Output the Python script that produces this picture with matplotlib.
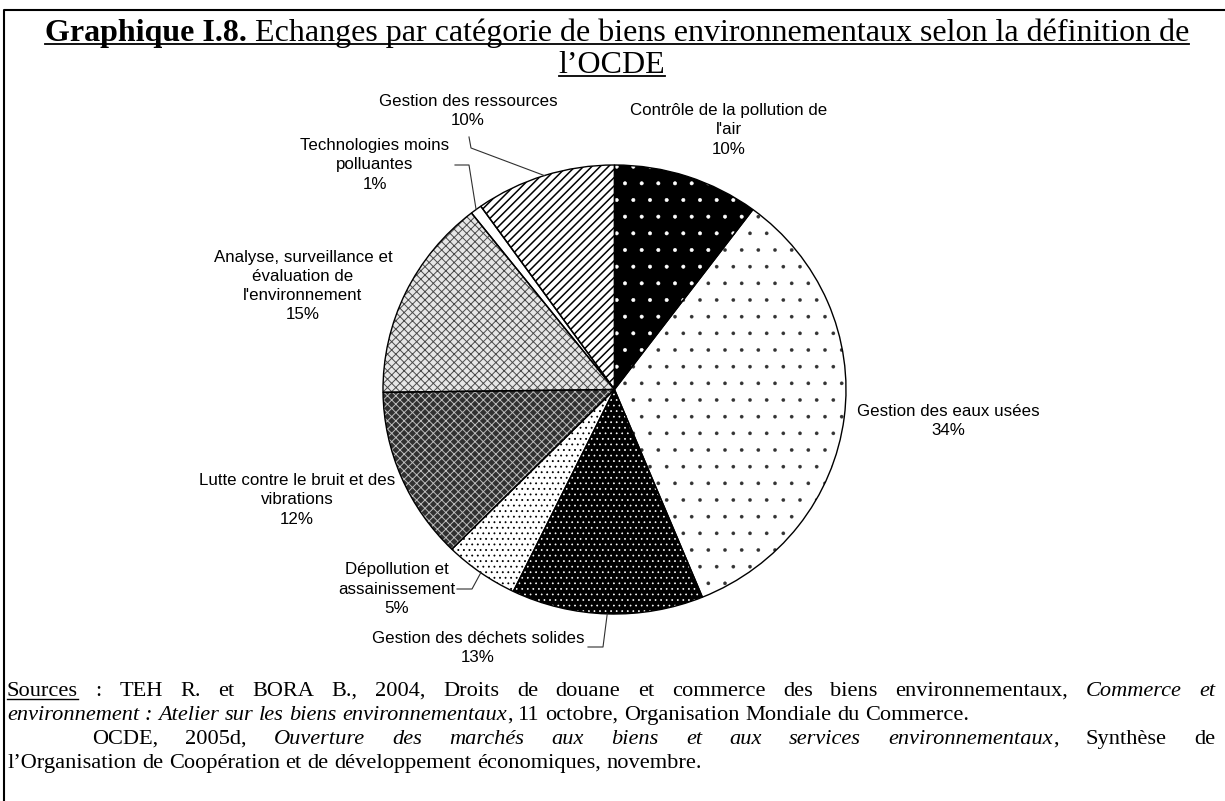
import numpy as np
import matplotlib
matplotlib.use('Agg')
from matplotlib import pyplot as plt

# pie data (shares, labels rounded like the source)
categories = [
    "Contrôle de la pollution de\nl'air",
    "Gestion des eaux usées",
    "Gestion des déchets solides",
    "Dépollution et\nassainissement",
    "Lutte contre le bruit et des\nvibrations",
    "Analyse, surveillance et\névaluation de\nl'environnement",
    "Technologies moins\npolluantes",
    "Gestion des ressources",
]
shares = [10.2, 33.6, 13.4, 5.2, 12.4, 14.6, 0.8, 9.8]

title_bold = "Graphique I.8."
title_rest = "Echanges par catégorie de biens environnementaux selon la définition de"
title_line2 = "l\u2019OCDE"

# '*' toggles italic, '_' toggles underline
source_lines = [
    "_Sources_ : TEH R. et BORA B., 2004, Droits de douane et commerce des biens environnementaux, *Commerce et*",
    "*environnement : Atelier sur les biens environnementaux*, 11 octobre, Organisation Mondiale du Commerce.",
    "OCDE, 2005d, *Ouverture des marchés aux biens et aux services environnementaux*, Synthèse de",
    "l\u2019Organisation de Coopération et de développement économiques, novembre.",
]

# layout (pixels)
W, H = 1225, 801
PIE_CX, PIE_CY, PIE_RX, PIE_RY = 614.5, 389.5, 231.5, 224.5
label_pos = [(729, 130), (948, 421), (478, 648), (397, 589),
             (297, 500), (303, 286), (375, 165), (468, 111)]
# elbow of leader lines, keyed by wedge index; the last point is on the wedge
leader_elbows = {
    7: [(469, 137), (471, 148)],
    6: [(455, 165), (469, 165)],
    3: [(457, 589), (472, 589)],
    2: [(588, 647), (603, 647)],
}
# source lines: (x start, x end, baseline, justify)
source_layout = [(7, 1215, 696, True), (7, 1215, 720, False),
                 (92, 1215, 744, True), (7, 1215, 768, False)]

styles = [
    dict(fc='black', hc='white', hatch='.', hlw=0.4),
    dict(fc='white', hc='#333333', hatch='.', hlw=0.2),
    dict(fc='black', hc='white', hatch='...', hlw=0.5),
    dict(fc='white', hc='black', hatch='...', hlw=0.6),
    dict(fc='#303030', hc='#bdbdbd', hatch='xxxx', hlw=0.7),
    dict(fc='#e6e6e6', hc='#4a4a4a', hatch='xxxx', hlw=0.7),
    dict(fc='white', hc='white', hatch=None, hlw=0.6),
    dict(fc='white', hc='black', hatch='////', hlw=1.1),
]

plt.rcParams['hatch.linewidth'] = 0.6
SERIF = 'Liberation Serif'
SANS = 'Liberation Sans'

fig = plt.figure(figsize=(W / 100, H / 100), dpi=100)
fig.patch.set_facecolor('white')

ax = fig.add_axes([(PIE_CX - PIE_RX) / W, (H - PIE_CY - PIE_RY) / H,
                   2 * PIE_RX / W, 2 * PIE_RY / H])
wedges, _ = ax.pie(shares, startangle=90, counterclock=False, radius=1,
                   wedgeprops=dict(linewidth=0))
for w, st in zip(wedges, styles):
    w.set_facecolor(st['fc'])
    w.set_edgecolor(st['hc'])
    if st['hatch']:
        w.set_hatch(st['hatch'])
    if hasattr(w, 'set_hatch_linewidth'):
        w.set_hatch_linewidth(st['hlw'])
outlines, _ = ax.pie(shares, startangle=90, counterclock=False, radius=1,
                     wedgeprops=dict(fill=False, edgecolor='black', linewidth=1.0))
for w in outlines:
    w.set_clip_on(False)
ax.set_aspect('auto')
ax.set_xlim(-1, 1)
ax.set_ylim(-1, 1)
ax.axis('off')

# overlay in pixel coordinates for texts, leaders and frame
tx = fig.add_axes([0, 0, 1, 1], zorder=3)
tx.set_xlim(0, W)
tx.set_ylim(H, 0)
tx.axis('off')

renderer = fig.canvas.get_renderer()


def text_width(t):
    return t.get_window_extent(renderer).width


# frame
tx.plot([4, 4, W], [H, 10, 10], color='black', lw=1.5, clip_on=False)

# pie labels
LFS = 12.2
for i, (name, (lx, ly)) in enumerate(zip(categories, label_pos)):
    pct = int(shares[i] + 0.5)
    tx.text(lx, ly, f"{name}\n{pct}%", ha='center', va='center',
            multialignment='center', fontsize=LFS, family=SANS,
            linespacing=1.36, color='black')

for i, elbow in leader_elbows.items():
    w = wedges[i]
    mid = np.deg2rad((w.theta1 + w.theta2) / 2)
    disp = ax.transData.transform((np.cos(mid), np.sin(mid)))
    px, py = tx.transData.inverted().transform(disp)
    xs = [p[0] for p in elbow] + [px]
    ys = [p[1] for p in elbow] + [py]
    tx.plot(xs, ys, color='#303030', lw=0.8)

# title
TFS = 23
t_b = tx.text(0, 41, title_bold, fontsize=TFS, family=SERIF, weight='bold',
              va='baseline', ha='left')
t_r = tx.text(0, 41, title_rest, fontsize=TFS, family=SERIF,
              va='baseline', ha='left')
sp = text_width(tx.text(0, 0, 'a a', fontsize=TFS, family=SERIF, alpha=0)) - \
    text_width(tx.text(0, 0, 'aa', fontsize=TFS, family=SERIF, alpha=0))
wb, wr = text_width(t_b), text_width(t_r)
total = wb + sp + wr
x0 = 617 - total / 2
t_b.set_x(x0)
t_r.set_x(x0 + wb + sp)
tx.plot([x0, x0 + total], [44, 44], color='black', lw=1.3)
t2 = tx.text(612, 73, title_line2, fontsize=TFS, family=SERIF,
             va='baseline', ha='center')
w2 = text_width(t2)
tx.plot([612 - w2 / 2, 612 + w2 / 2], [76, 76], color='black', lw=1.3)

# sources, word by word so lines can be justified
SFS = 16.1


def parse_words(line):
    words = []
    ital = False
    und = False
    for raw in line.split(' '):
        pieces = []
        buf = ''
        for ch in raw:
            if ch in '*_':
                if buf:
                    pieces.append((buf, ital, und))
                    buf = ''
                if ch == '*':
                    ital = not ital
                else:
                    und = not und
            else:
                buf += ch
        if buf:
            pieces.append((buf, ital, und))
        if pieces:
            words.append(pieces)
    return words


s_sp = text_width(tx.text(0, 0, 'a a', fontsize=SFS, family=SERIF, alpha=0)) - \
    text_width(tx.text(0, 0, 'aa', fontsize=SFS, family=SERIF, alpha=0))

for line, (xa, xb, yb, justify) in zip(source_lines, source_layout):
    words = parse_words(line)
    placed = []
    for pieces in words:
        arts = []
        for s, ital, und in pieces:
            t = tx.text(0, yb, s, fontsize=SFS, family=SERIF,
                        style='italic' if ital else 'normal',
                        va='baseline', ha='left')
            arts.append((t, text_width(t), und))
        placed.append(arts)
    widths = [sum(a[1] for a in arts) for arts in placed]
    gap = s_sp
    if justify and len(placed) > 1:
        gap = (xb - xa - sum(widths)) / (len(placed) - 1)
    x = xa
    for arts, wsum in zip(placed, widths):
        for t, wt, und in arts:
            t.set_x(x)
            if und:
                tx.plot([x, x + wt], [yb + 3, yb + 3], color='black', lw=1.0)
            x += wt
        x += gap

fig.savefig('out.png', dpi=100)
